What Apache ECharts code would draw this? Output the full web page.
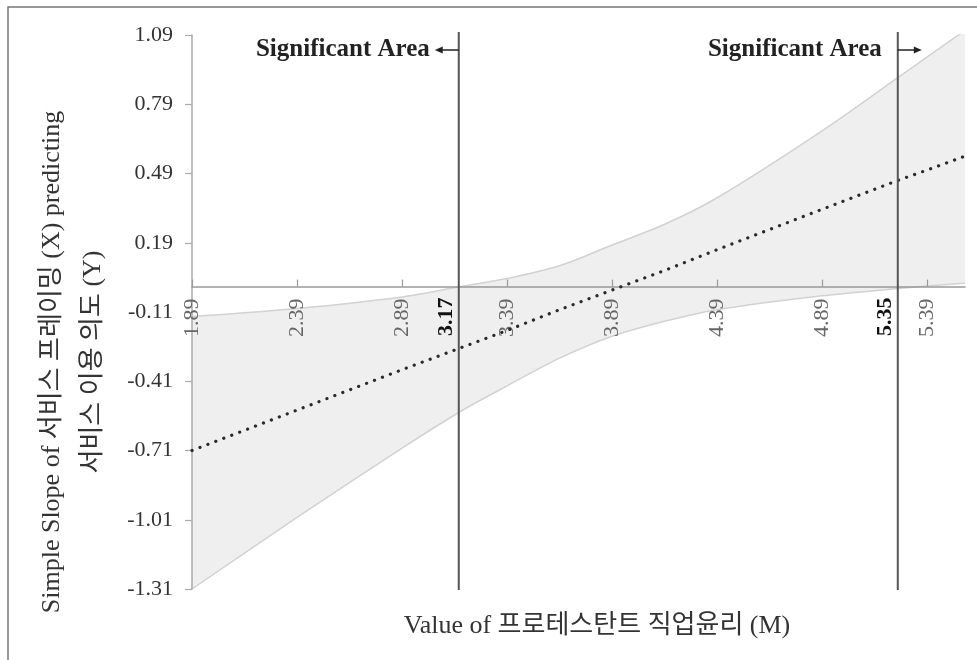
<!DOCTYPE html>
<html>
<head>
<meta charset="utf-8">
<script src="https://cdn.jsdelivr.net/npm/echarts@6/dist/echarts.min.js"></script>
<style>
  html, body { margin: 0; padding: 0; background: #fff; }
  #jn { width: 977px; height: 660px; }
</style>
</head>
<body>
<div id="jn"></div>
<script>
const mValues = [1.89, 2.39, 2.89, 3.17, 3.39, 3.64, 3.89, 4.14, 4.39, 4.89, 5.25, 5.39, 5.57];
// simple slope of X on Y and its confidence band
const slope   = [-0.71, -0.535, -0.36, -0.265, -0.19, -0.10, -0.015, 0.07, 0.16, 0.335, 0.46, 0.505, 0.565];
const upperCI = [-0.13, -0.095, -0.045, 0.0, 0.035, 0.09, 0.18, 0.27, 0.385, 0.675, 0.905, 0.995, 1.11];
const lowerCI = [-1.31, -1.0, -0.70, -0.54, -0.43, -0.31, -0.215, -0.15, -0.10, -0.04, -0.008, 0.003, 0.015];

const xTicks = [1.89, 2.39, 2.89, 3.39, 3.89, 4.39, 4.89, 5.39];
const yTicks = [-1.31, -1.01, -0.71, -0.41, -0.11, 0.19, 0.49, 0.79, 1.09];

// Johnson-Neyman points: printed value and where the figure draws the line
const jnLabels = ['3.17', '5.35'];
const jnDrawnAt = [3.16, 5.25];
const jnArrow = [-1, 1]; // arrow direction of "Significant Area"

const serif = '"Liberation Serif", "Noto Sans CJK KR", serif';
const yMin = yTicks[0];
const yMax = yTicks[yTicks.length - 1];

const chart = echarts.init(document.getElementById('jn'));

const option = {
  animation: false,
  grid: { left: 192, right: 12, top: 35, bottom: 71, containLabel: false },
  xAxis: {
    type: 'value',
    min: 1.89,
    max: 5.57,
    interval: 0.5,
    z: 5,
    axisLine: { onZero: false, lineStyle: { color: '#999', width: 1.5 } },
    axisTick: { show: true, inside: true, length: 7, lineStyle: { color: '#999', width: 1.2 }, customValues: xTicks },
    axisLabel: {
      rotate: 90, margin: 12, color: '#666', fontSize: 22, fontFamily: serif,
      customValues: xTicks,
      formatter: v => v.toFixed(2)
    },
    splitLine: { show: false }
  },
  yAxis: {
    type: 'value',
    min: yMin,
    max: yMax,
    interval: 0.3,
    z: 5,
    axisLine: { show: true, onZero: false, lineStyle: { color: '#aaa', width: 1.5 } },
    axisTick: { show: true, length: 7, lineStyle: { color: '#aaa', width: 1.2 }, customValues: yTicks },
    axisLabel: {
      margin: 19, color: '#333', fontSize: 22, fontFamily: serif,
      customValues: yTicks,
      formatter: v => v.toFixed(2)
    },
    splitLine: { show: false }
  },
  graphic: [
    {
      type: 'rect', z: -10, silent: true,
      shape: { x: 8, y: 7, width: 1100, height: 800 },
      style: { fill: 'none', stroke: '#777', lineWidth: 1.5 }
    },
    {
      type: 'text', silent: true,
      x: 597, y: 626,
      style: {
        text: 'Value of 프로테스탄트 직업윤리 (M)',
        font: '26px ' + serif, fill: '#333', align: 'center', verticalAlign: 'middle'
      }
    },
    {
      type: 'text', silent: true,
      x: 73, y: 362, rotation: Math.PI / 2,
      style: {
        text: 'Simple Slope of 서비스 프레이밍 (X) predicting\n서비스 이용 의도 (Y)',
        font: '26px ' + serif, fill: '#333', align: 'center', verticalAlign: 'middle',
        lineHeight: 41
      }
    }
  ],
  series: [
    {
      // grey fill from the upper bound down to the axis start
      name: 'upper',
      type: 'line',
      data: mValues.map((m, i) => [m, upperCI[i]]),
      symbol: 'none',
      smooth: 0.3,
      z: 1,
      silent: true,
      lineStyle: { color: '#d2d2d2', width: 1.5 },
      areaStyle: { color: '#efefef', opacity: 1, origin: 'start' }
    },
    {
      // white fill below the lower bound leaves only the band
      name: 'lower',
      type: 'line',
      data: mValues.map((m, i) => [m, lowerCI[i]]),
      symbol: 'none',
      smooth: 0.3,
      z: 2,
      silent: true,
      lineStyle: { color: '#d2d2d2', width: 1.5 },
      areaStyle: { color: '#ffffff', opacity: 1, origin: 'start' }
    },
    {
      name: 'slope',
      type: 'line',
      data: mValues.map((m, i) => [m, slope[i]]),
      symbol: 'none',
      z: 7,
      silent: true,
      lineStyle: { color: '#2a2a2a', width: 3.2, type: [0.1, 8.4], cap: 'round' }
    },
    {
      name: 'jn',
      type: 'custom',
      clip: false,
      z: 8,
      silent: true,
      data: jnDrawnAt.map((x, i) => [x, jnArrow[i]]),
      encode: { x: 0, y: 1 },
      renderItem: function (params, api) {
        const x = api.value(0);
        const dir = api.value(1);
        const top = api.coord([x, yMax]);
        const bottom = api.coord([x, yMin]);
        const zero = api.coord([x, 0]);
        const ay = top[1] + 15;
        const tip = top[0] + dir * 24;
        const textRight = dir < 0 ? tip - 5 : top[0] - 16;
        return {
          type: 'group',
          children: [
            {
              type: 'line',
              shape: { x1: top[0], y1: top[1] - 3, x2: bottom[0], y2: bottom[1] + 1 },
              style: { stroke: '#555', lineWidth: 2 }
            },
            {
              type: 'line',
              shape: { x1: top[0], y1: ay, x2: tip - dir * 5, y2: ay },
              style: { stroke: '#222', lineWidth: 1.5 }
            },
            {
              type: 'polygon',
              shape: { points: [[tip, ay], [tip - dir * 8, ay - 3.5], [tip - dir * 8, ay + 3.5]] },
              style: { fill: '#222' }
            },
            {
              type: 'text',
              x: textRight, y: ay,
              style: {
                text: 'Significant Area', font: 'bold 25px ' + serif, fill: '#222',
                align: 'right', verticalAlign: 'middle'
              }
            },
            {
              type: 'text',
              x: zero[0] - 12, y: zero[1] + 11, rotation: Math.PI / 2,
              style: {
                text: jnLabels[params.dataIndex], font: 'bold 22px ' + serif, fill: '#111',
                align: 'right', verticalAlign: 'middle'
              }
            }
          ]
        };
      }
    }
  ]
};

chart.setOption(option);

// move the x axis up to the zero line (its labels stay with it)
const zeroY = chart.convertToPixel({ yAxisIndex: 0 }, 0);
const baseY = chart.convertToPixel({ yAxisIndex: 0 }, yMin);
chart.setOption({ xAxis: { offset: zeroY - baseY } });
</script>
</body>
</html>
